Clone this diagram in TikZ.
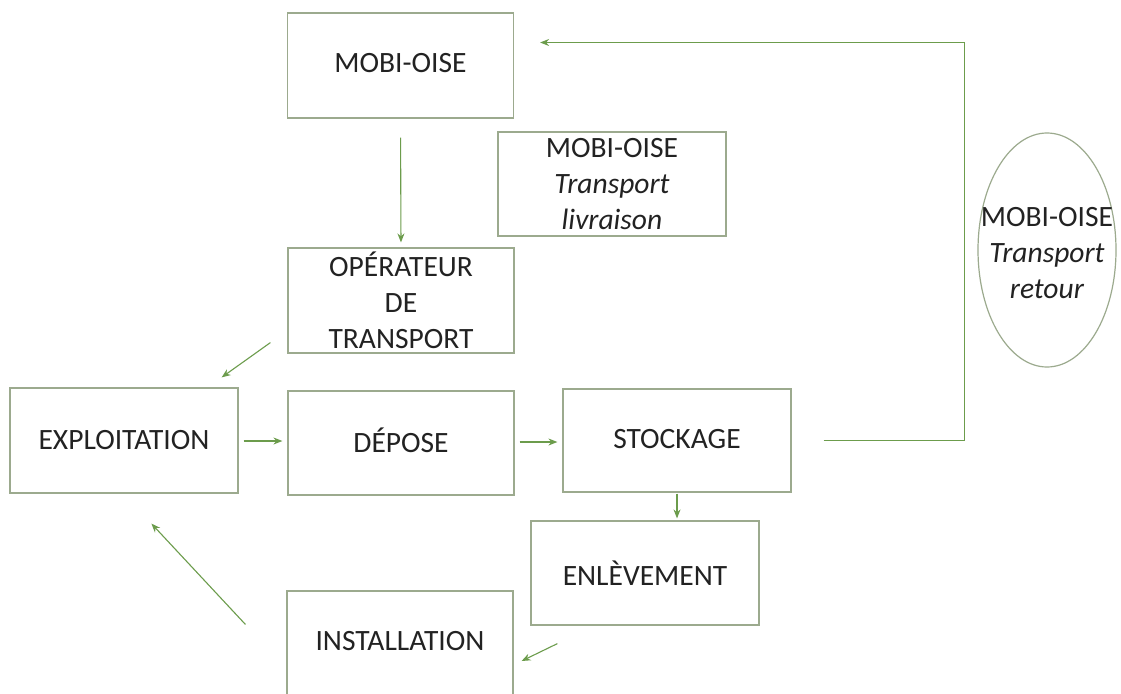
\documentclass[tikz,border=0pt]{standalone}
\usepackage{fontspec}
\setmainfont{Carlito}
\usetikzlibrary{arrows.meta,calc}
\definecolor{boxline}{RGB}{156,170,142}
\definecolor{arrowgreen}{RGB}{108,156,76}
\definecolor{txt}{RGB}{34,34,34}
\begin{document}
\begin{tikzpicture}[x=1pt,y=-1pt,
  lbl/.style={font=\fontsize{29.5}{36}\selectfont, text=txt, align=center, inner sep=0pt},
  box/.style={lbl, draw=boxline, line width=1.2pt, rectangle, minimum width=226pt, minimum height=105pt},
  arr/.style={draw=arrowgreen, line width=1.1pt, -{Stealth[length=9pt,width=7pt]}},
]
\useasboundingbox (0,0) rectangle (1121,693);
\fill[white] (0,0) rectangle (1121,693);

% boxes
\node[box] (mobi) at (400.5,65.5) {\raisebox{6pt}{MOBI-OISE}};
\node[box, minimum width=228pt, minimum height=104pt] (livr) at (612,184) {MOBI-OISE\\\textit{Transport}\\\textit{livraison}};
\node[box] (oper) at (401,300.5) {OPÉRATEUR\\DE\\TRANSPORT};
\node[box, minimum width=228pt] (expl) at (124,440.5) {EXPLOITATION};
\node[box, minimum height=104pt] (dep) at (401,443) {\raisebox{6pt}{DÉPOSE}};
\node[box, minimum width=228pt, minimum height=103pt] (stock) at (677,440.5) {\raisebox{3pt}{STOCKAGE}};
\node[box, minimum width=228pt, minimum height=104pt] (enl) at (645,573) {\raisebox{-3pt}{ENLÈVEMENT}};
\node[box, minimum height=104pt] (inst) at (400,643) {\raisebox{4pt}{INSTALLATION}};

% ellipse
\coordinate (ellc) at (1047,250);
\draw[boxline, line width=1.2pt] (ellc) ellipse [x radius=69, y radius=117];
\node[lbl] (ret) at (1047,253) {MOBI-OISE\\\textit{Transport}\\\textit{retour}};

% connectors
\draw[arr, shorten <=19pt, shorten >=5pt] (mobi.south) -- (oper.north);
\draw[arr] ($(oper.south west)+(-17,-11)$) -- ($(expl.north east)+(-17,-10)$);
\draw[arr] ($(expl.east)+(5,0.5)$) -- ($(dep.west)+(-5,-2)$);
\draw[arr] ($(dep.east)+(5,-1)$) -- ($(stock.west)+(-5,1.5)$);
\draw[arr, shorten <=1pt, shorten >=2pt] (stock.south) -- (stock.south |- enl.north);
\draw[arr] ($(stock.east)+(32,0)$) -- ++(141,0) |- ($(mobi.east)+(26,-23)$);
\draw[arr] ($(enl.south west)+(27,18)$) -- ($(inst.east)+(8,18)$);
\draw[arr] ($(inst.north west)+(-41,34)$) -- ($(expl.south west)+(142,30)$);
\end{tikzpicture}
\end{document}
